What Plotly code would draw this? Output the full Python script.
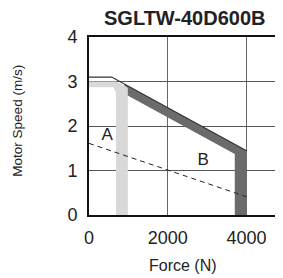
import plotly.graph_objects as go

title_text = "SGLTW-40D600B"
x_label = "Force (N)"
y_label = "Motor Speed (m/s)"
x_ticks = [0, 2000, 4000]
y_ticks = [0, 1, 2, 3, 4]

# Intermittent (B) outline and band
b_top_force = [0, 575, 4010]
b_top_speed = [3.1, 3.1, 1.44]
b_band_force = [900, 4010, 4010, 3700, 3700, 900]
b_band_speed = [2.943, 1.44, 0, 0, 1.37, 2.723]

# Continuous (A) band
a_band_force = [0, 700, 985, 985, 685, 685, 620, 0]
a_band_speed = [3.0, 3.0, 2.86, 0, 0, 2.75, 2.87, 2.87]

# Dashed load line
dash_force = [0, 4000]
dash_speed = [1.61, 0.41]

region_labels = ["A", "B"]
label_force = [460, 2900]
label_speed = [1.78, 1.22]

fig = go.Figure()
fig.add_trace(go.Scatter(x=b_band_force, y=b_band_speed, fill="toself", mode="lines",
                         line=dict(width=0, color="#6b6b6b"), fillcolor="#6b6b6b",
                         hoverinfo="skip", showlegend=False))
fig.add_trace(go.Scatter(x=a_band_force, y=a_band_speed, fill="toself", mode="lines",
                         line=dict(width=0, color="#d9d9d9"), fillcolor="#d9d9d9",
                         hoverinfo="skip", showlegend=False))
fig.add_trace(go.Scatter(x=b_top_force, y=b_top_speed, mode="lines",
                         line=dict(width=1.2, color="#333333"),
                         hoverinfo="skip", showlegend=False))
fig.add_trace(go.Scatter(x=dash_force, y=dash_speed, mode="lines",
                         line=dict(width=1, color="#222222", dash="5px,4px"),
                         hoverinfo="skip", showlegend=False))
fig.add_trace(go.Scatter(x=label_force, y=label_speed, mode="text", text=region_labels,
                         textfont=dict(family="Liberation Sans, Arial", size=17, color="#222222"),
                         hoverinfo="skip", showlegend=False))

font_fam = "Liberation Sans, Arial, sans-serif"
fig.update_layout(
    width=275, height=270,
    margin=dict(l=81, r=0, t=29, b=63),
    paper_bgcolor="white", plot_bgcolor="white",
    font=dict(family=font_fam, color="#222222"),
    showlegend=False,
    xaxis=dict(range=[0, 4924], tickvals=x_ticks, ticktext=[str(v) for v in x_ticks],
               showgrid=True, gridcolor="#666666", gridwidth=1,
               showline=True, linecolor="#111111", linewidth=2, mirror=True,
               ticks="outside", ticklen=5, tickcolor="rgba(0,0,0,0)",
               tickfont=dict(size=18), zeroline=False, fixedrange=True),
    yaxis=dict(range=[0, 4], tickvals=y_ticks, ticktext=[str(v) for v in y_ticks],
               showgrid=True, gridcolor="#555555", gridwidth=1,
               showline=True, linecolor="#111111", linewidth=2, mirror=False,
               ticks="outside", ticklen=6, tickcolor="rgba(0,0,0,0)",
               tickfont=dict(size=18), zeroline=False, fixedrange=True),
    annotations=[
        dict(text="<b>" + title_text + "</b>", xref="paper", yref="paper",
             x=0.49, y=1.0, yshift=19, showarrow=False, xanchor="center", yanchor="middle",
             font=dict(size=20, family=font_fam, color="#222222")),
        dict(text=x_label, xref="paper", yref="paper", x=0.485, y=0, yshift=-50,
             showarrow=False, xanchor="center", yanchor="middle",
             font=dict(size=16, family=font_fam, color="#222222")),
        dict(text=y_label, xref="paper", yref="paper", x=0, xshift=-71, y=0.53,
             showarrow=False, xanchor="center", yanchor="middle", textangle=-90,
             font=dict(size=13.5, family=font_fam, color="#222222")),
    ],
)

fig.write_html("out.html")
